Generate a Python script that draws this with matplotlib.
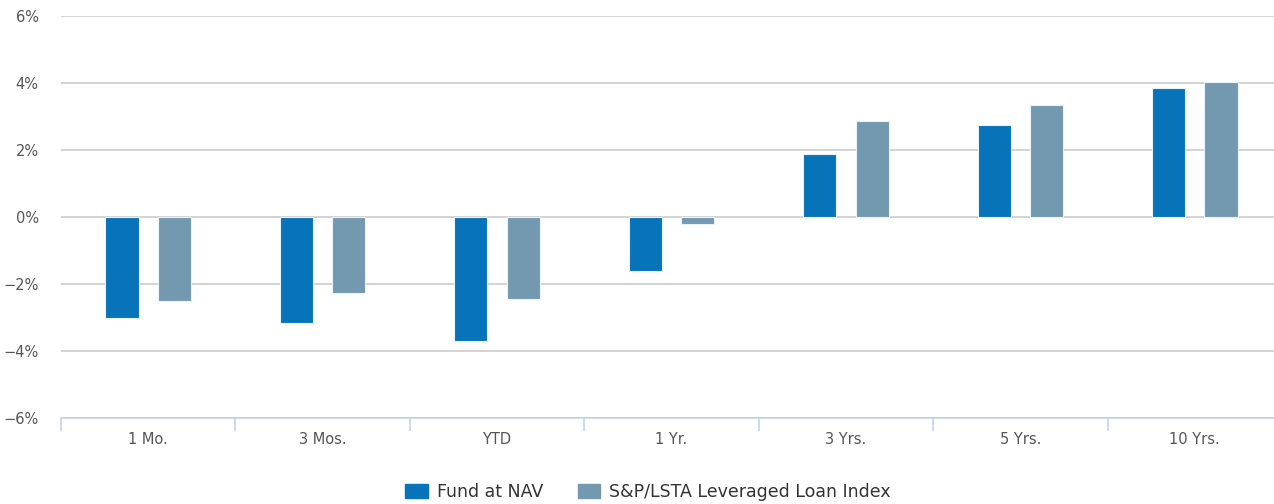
import numpy as np
import matplotlib.pyplot as plt
from matplotlib.ticker import FuncFormatter
from matplotlib.patches import Patch

periods = ['1 Mo.', '3 Mos.', 'YTD', '1 Yr.', '3 Yrs.', '5 Yrs.', '10 Yrs.']
fund_nav = [-3.02, -3.16, -3.70, -1.60, 1.88, 2.75, 3.84]
loan_index = [-2.51, -2.27, -2.45, -0.22, 2.87, 3.34, 4.02]

fund_color = '#0773b9'
index_color = '#7399b0'
text_color = '#555555'

plt.rcParams['font.family'] = ['DejaVu Sans']

fig = plt.figure(figsize=(12.74, 5.04), dpi=100)
ax = fig.add_axes([61 / 1274, 1 - 418 / 504, 1221 / 1274, 402 / 504])

x = np.arange(len(periods))
w = 0.19
ax.bar(x - 0.15, fund_nav, w, color=fund_color, edgecolor='#e8f2fa', linewidth=0.8, zorder=3)
ax.bar(x + 0.15, loan_index, w, color=index_color, edgecolor='#e8f2fa', linewidth=0.8, zorder=3)

ax.set_xlim(-0.5, len(periods) - 0.5)
ax.set_ylim(-6, 6)
ax.set_yticks(np.arange(-6, 7, 2))
ax.yaxis.set_major_formatter(FuncFormatter(lambda v, p: f'{v:.0f}%'.replace('-', '\u2212')))
ax.grid(axis='y', color='#cccccc', linewidth=1.2, zorder=0)

for s in ['top', 'right', 'left']:
    ax.spines[s].set_visible(False)
ax.spines['bottom'].set_color('#c4d4e6')
ax.spines['bottom'].set_linewidth(1.2)

# category labels centred, tick marks at the boundaries
ax.set_xticks(x)
ax.set_xticklabels(periods)
ax.set_xticks(np.arange(-0.5, len(periods), 1), minor=True)
ax.tick_params(axis='x', which='major', length=0, pad=10, labelsize=10.5, labelcolor=text_color)
ax.tick_params(axis='x', which='minor', length=9, color='#c4d4e6', width=1.2)
ax.tick_params(axis='y', length=0, pad=16, labelsize=10.5, labelcolor=text_color)

handles = [Patch(color=fund_color, label='Fund at NAV'),
           Patch(color=index_color, label='S&P/LSTA Leveraged Loan Index')]
fig.legend(handles=handles, loc='center', bbox_to_anchor=(648 / 1274, 1 - 492 / 504),
           ncol=2, frameon=False, fontsize=12.5, labelcolor='#333333',
           handlelength=1.3, handleheight=0.9, columnspacing=2.0, handletextpad=0.5)

plt.savefig('out.png', dpi=100)
